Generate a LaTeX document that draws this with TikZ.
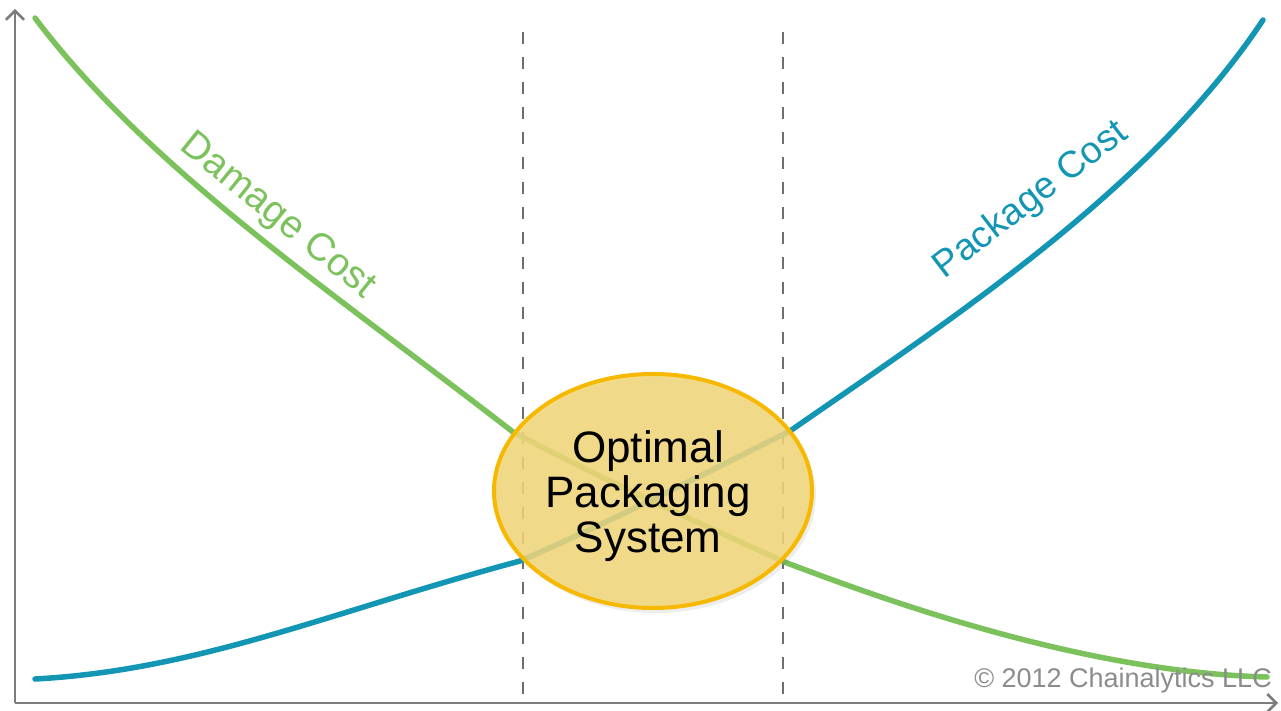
\documentclass[tikz,border=0pt]{standalone}
\usepackage{fontspec}
\setmainfont{Liberation Sans}
\usetikzlibrary{arrows.meta}
\definecolor{dgreen}{RGB}{124,194,92}
\definecolor{pblue}{RGB}{18,150,180}
\definecolor{axisgray}{RGB}{125,125,125}
\definecolor{dashgray}{RGB}{110,110,110}
\definecolor{ovalfill}{RGB}{242,214,122}
\definecolor{ovaledge}{RGB}{246,184,0}
\definecolor{copygray}{RGB}{140,140,140}
\tikzset{
  axisline/.style={draw=axisgray, line width=2.5pt, -{Straight Barb[length=9pt,width=18pt,line width=2.5pt]}},
  guide/.style={draw=dashgray, line width=2.5pt, dash pattern=on 12pt off 13pt},
  curve/.style={line width=5.5pt, line cap=round},
  label/.style={inner sep=0pt, anchor=base},
}
\begin{document}
\begin{tikzpicture}[x=1pt,y=-1pt]
\useasboundingbox (0,0) rectangle (1281,711);
% axes
\coordinate (origin) at (15,703);
\coordinate (ytop) at (15,9);
\coordinate (xend) at (1278,703);
\draw[axisline] (origin) -- (ytop);
\draw[axisline] (origin) -- (xend);
% guides
\coordinate (g1t) at (523,32);
\coordinate (g1b) at (523,703);
\coordinate (g2t) at (783,32);
\coordinate (g2b) at (783,703);
\draw[guide] (g1t) -- (g1b);
\draw[guide] (g2t) -- (g2b);
% damage cost curve
\coordinate (d0) at (35,18);
\coordinate (d1) at (513,432);
\coordinate (d2) at (787,563);
\coordinate (d3) at (1267,677);
\draw[curve, dgreen] (d0) .. controls (150,170) and (330,290) .. (d1)
  .. controls (600,478) and (700,524) .. (d2)
  .. controls (880,598) and (1080,672) .. (d3);
% package cost curve
\coordinate (p0) at (35,679);
\coordinate (p1) at (520,561);
\coordinate (p2) at (790,431);
\coordinate (p3) at (1263,20);
\draw[curve, pblue] (p0) .. controls (200,670) and (330,612) .. (p1)
  .. controls (610,522) and (700,476) .. (p2)
  .. controls (950,320) and (1150,190) .. (p3);
% labels
\node[label, font=\fontsize{39}{39}\selectfont, text=dgreen, rotate=-39] (dmg) at (271,224) {Damage Cost};
\node[label, font=\fontsize{37.5}{37.5}\selectfont, text=pblue, rotate=37.5] (pkg) at (1037,208) {Package Cost};
% optimal oval
\fill[black, opacity=0.07] (656,495) ellipse [x radius=160, y radius=118];
\path[fill=ovalfill, fill opacity=0.86, draw=ovaledge, line width=4pt] (653,491) ellipse [x radius=159, y radius=117];
\node[font=\fontsize{44}{45}\selectfont, align=center, inner sep=0pt] (opt) at (648,496) {Optimal\\Packaging\\System};
% copyright
\node[font=\fontsize{27}{27}\selectfont, text=copygray, anchor=base east, inner sep=0pt] (copy) at (1272,687) {© 2012 Chainalytics LLC};
\end{tikzpicture}
\end{document}
